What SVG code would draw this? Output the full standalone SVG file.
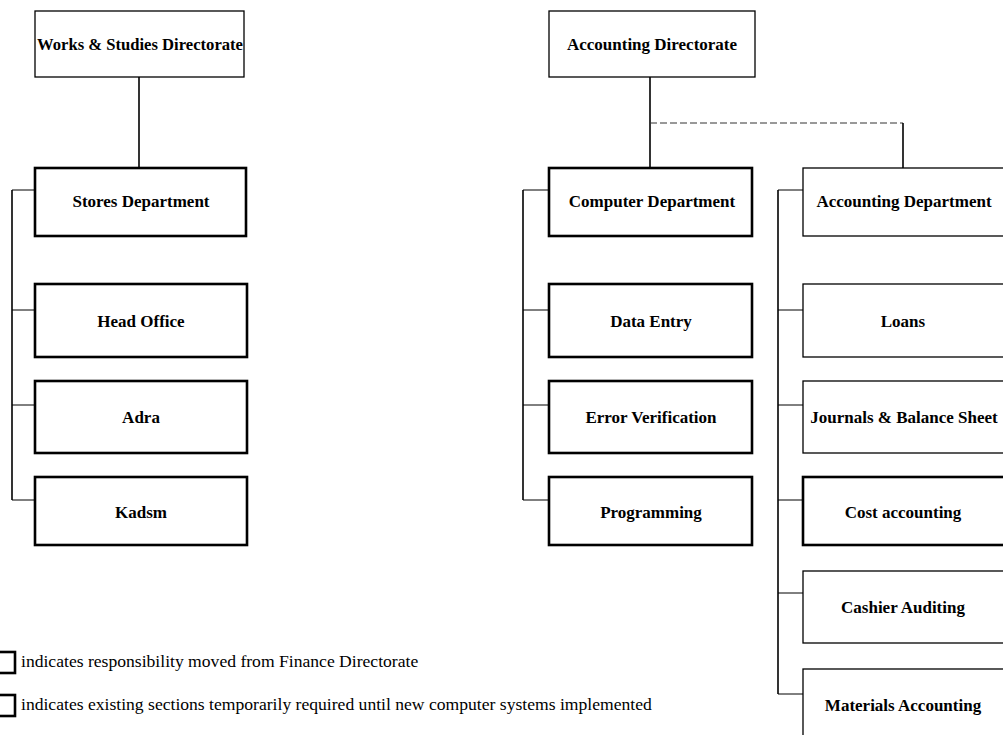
<svg xmlns="http://www.w3.org/2000/svg" width="1003" height="735" viewBox="0 0 1003 735">
  <style>
    .box { fill: #ffffff; stroke: #000000; stroke-width: 1.3; }
    .box.heavy { stroke-width: 2.6; }
    .label { font-family: "Liberation Serif", "Times New Roman", serif; font-size: 17px; font-weight: bold; fill: #000000; text-anchor: middle; dominant-baseline: central; }
    .note { font-family: "Liberation Serif", "Times New Roman", serif; font-size: 17.6px; fill: #000000; }
    .link { fill: none; stroke: #000000; stroke-width: 1.6; }
    .link.thin { stroke-width: 1; }
    .link.dash { stroke-width: 1; stroke-dasharray: 7 3; stroke: #333333; }
  </style>
  <rect x="0" y="0" width="1003" height="735" fill="#ffffff"/>

  <!-- connectors -->
  <g id="connectors">
    <!-- Works & Studies branch -->
    <path class="link" d="M139,77 V168"/>
    <path class="link" d="M12,190 V500"/>
    <path class="link thin" d="M12,190 H35 M12,310 H35 M12,405 H35 M12,500 H35"/>
    <!-- Accounting Directorate branch -->
    <path class="link" d="M650,77 V168"/>
    <path class="link dash" d="M650,123 H903"/>
    <path class="link" d="M903,123 V168"/>
    <path class="link" d="M523,190 V500"/>
    <path class="link thin" d="M523,190 H549 M523,310 H549 M523,405 H549 M523,500 H549"/>
    <path class="link" d="M778,190 V694"/>
    <path class="link thin" d="M778,190 H803 M778,310 H803 M778,405 H803 M778,500 H803 M778,593 H803 M778,694 H803"/>
  </g>

  <!-- left column -->
  <g id="works-studies-directorate">
    <rect class="box" x="35" y="11" width="209" height="66"/>
    <text class="label" x="140" y="44" textLength="206" lengthAdjust="spacingAndGlyphs">Works &amp; Studies Directorate</text>
  </g>
  <g id="stores-department">
    <rect class="box heavy" x="35" y="168" width="211" height="68"/>
    <text class="label" x="141" y="201">Stores Department</text>
  </g>
  <g id="head-office">
    <rect class="box heavy" x="35" y="284" width="212" height="73"/>
    <text class="label" x="141" y="321">Head Office</text>
  </g>
  <g id="adra">
    <rect class="box heavy" x="35" y="381" width="212" height="72"/>
    <text class="label" x="141" y="417">Adra</text>
  </g>
  <g id="kadsm">
    <rect class="box heavy" x="35" y="477" width="212" height="68"/>
    <text class="label" x="141" y="512">Kadsm</text>
  </g>

  <!-- middle column -->
  <g id="accounting-directorate">
    <rect class="box" x="549" y="11" width="206" height="66"/>
    <text class="label" x="652" y="44">Accounting Directorate</text>
  </g>
  <g id="computer-department">
    <rect class="box heavy" x="549" y="168" width="203" height="68"/>
    <text class="label" x="652" y="201">Computer Department</text>
  </g>
  <g id="data-entry">
    <rect class="box heavy" x="549" y="284" width="203" height="73"/>
    <text class="label" x="651" y="321">Data Entry</text>
  </g>
  <g id="error-verification">
    <rect class="box heavy" x="549" y="381" width="203" height="72"/>
    <text class="label" x="651" y="417">Error Verification</text>
  </g>
  <g id="programming">
    <rect class="box heavy" x="549" y="477" width="203" height="68"/>
    <text class="label" x="651" y="512">Programming</text>
  </g>

  <!-- right column -->
  <g id="accounting-department">
    <rect class="box" x="803" y="168" width="204" height="68"/>
    <text class="label" x="904" y="201">Accounting Department</text>
  </g>
  <g id="loans">
    <rect class="box" x="803" y="284" width="204" height="73"/>
    <text class="label" x="903" y="321">Loans</text>
  </g>
  <g id="journals-balance-sheet">
    <rect class="box" x="803" y="381" width="204" height="72"/>
    <text class="label" x="904" y="417">Journals &amp; Balance Sheet</text>
  </g>
  <g id="cost-accounting">
    <rect class="box heavy" x="803" y="477" width="204" height="68"/>
    <text class="label" x="903" y="512">Cost accounting</text>
  </g>
  <g id="cashier-auditing">
    <rect class="box" x="803" y="571" width="204" height="72"/>
    <text class="label" x="903" y="607">Cashier Auditing</text>
  </g>
  <g id="materials-accounting">
    <rect class="box" x="803" y="669" width="204" height="72"/>
    <text class="label" x="903" y="705">Materials Accounting</text>
  </g>

  <!-- key -->
  <g id="key-moved">
    <rect class="box heavy" x="-3" y="652" width="18" height="21"/>
    <text class="note" x="21" y="667">indicates responsibility moved from Finance Directorate</text>
  </g>
  <g id="key-temporary">
    <rect class="box heavy" x="-3" y="695" width="18" height="21"/>
    <text class="note" x="21" y="710">indicates existing sections temporarily required until new computer systems implemented</text>
  </g>
</svg>
